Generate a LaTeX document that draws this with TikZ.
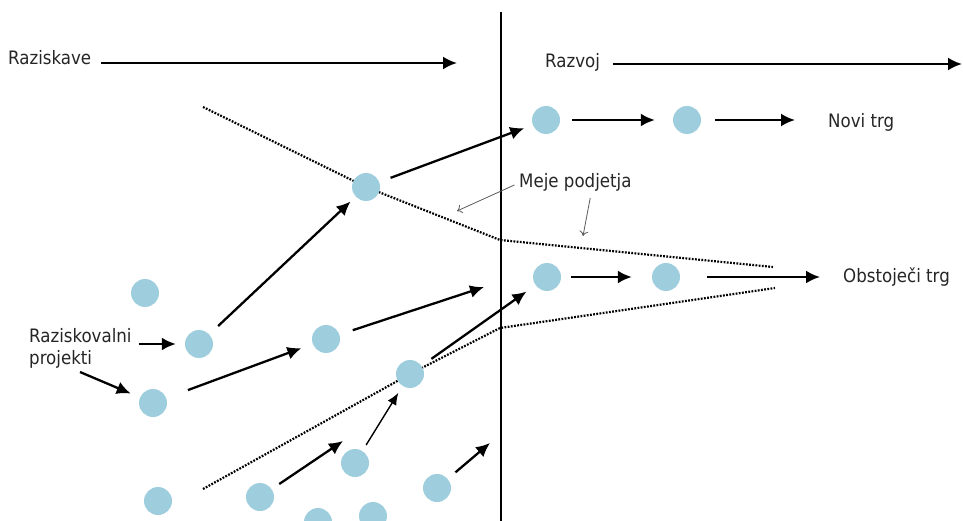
\documentclass[tikz,border=0pt]{standalone}
\usepackage{fontspec}
\setmainfont{DejaVu Sans Condensed}
\usetikzlibrary{arrows.meta}

\definecolor{projblue}{RGB}{158,206,222}

\begin{document}
\begin{tikzpicture}[x=1pt, y=-1pt,
    project/.style ={circle, fill=projblue, inner sep = 0pt, minimum size=28pt},
    label text/.style ={anchor=base west, inner sep=0pt, text=black!85, font=\fontsize{18.5}{22}\selectfont},
    flow/.style ={line width=2.3pt, -{Latex[length=14pt,width=13pt]}},
    thin flow/.style ={line width=1.4pt, -{Latex[length=12pt,width=10pt]}},
    hint/.style ={draw=black!65, line width=0.8pt, -{To[length=5pt,width=9pt]}},
    boundary/.style ={line width=2.2pt, dash pattern=on 1.8pt off 1.4pt}]
   \useasboundingbox (0,0) rectangle (963,521);

   % meje podjetja
   \draw[boundary] (203,107) -- (366,187) -- (500,240) -- (773,267);
   \draw[boundary] (203,489) -- (410,374) -- (500,328) -- (775,288);

   % raziskave | razvoj
   \coordinate (vtop) at (501,12);
   \coordinate (vbot) at (501,524);
   \draw[line width=1.8pt] (vtop) -- (vbot);

   \node[label text] (rsk) at (8,65) {Raziskave};
   \node[label text] (rzv) at (545,68) {Razvoj};
   \node[label text] (novi) at (828,128) {Novi trg};
   \node[label text] (obst) at (843,282) {Obstoječi trg};
   \node[label text] (meje) at (519,188) {Meje podjetja};
   \node[label text, anchor=north west, align=left] (lbl) at (29,328) {Raziskovalni\\projekti};

   \coordinate (rskEnd) at (457,63);
   \coordinate (rzvEnd) at (962,64);
   \coordinate (d1) at (484,287);
   \coordinate (h1) at (343,441);
   \coordinate (l1) at (490,443);
   \coordinate (p1) at (80,372);
   \coordinate (b1) at (457,211);
   \coordinate (b2) at (583,236);

   % projekti
   \node[project] (A) at (145,293) {};
   \node[project] (B) at (199,344) {};
   \node[project] (C) at (153,403) {};
   \node[project] (D) at (326,339) {};
   \node[project] (E) at (366,187) {};
   \node[project] (F) at (410,374) {};
   \node[project] (G) at (158,501) {};
   \node[project] (H) at (260,497) {};
   \node[project] (I) at (355,463) {};
   \node[project] (J) at (318,522) {};
   \node[project] (K) at (373,516) {};
   \node[project] (L) at (437,488) {};
   \node[project] (M) at (546,120) {};
   \node[project] (N) at (687,120) {};
   \node[project] (O) at (547,277) {};
   \node[project] (P) at (666,277) {};

   \draw[flow] (rsk.east |- rskEnd) ++(10,0) to (rskEnd);
   \draw[flow] (rzv.east |- rzvEnd) ++(13,0) to (rzvEnd);

   \draw[flow, shorten <=7pt, shorten >=9pt] (lbl.east |- B) to (B);
   \draw[flow, shorten >=10pt] (p1) to (C);
   \draw[flow, shorten <=12pt, shorten >=7pt] (B) to (E);
   \draw[flow, shorten <=12pt, shorten >=9pt] (E) to (M);
   \draw[flow, shorten <=12pt, shorten >=18pt] (M) to (N);
   \draw[flow, shorten <=14pt, shorten >=33pt] (N) to (novi.west |- N);
   \draw[flow, shorten <=23pt, shorten >=12pt] (C) to (D);
   \draw[flow, shorten <=14pt] (D) to (d1);
   \draw[flow, shorten <=12pt, shorten >=11pt] (F) to (O);
   \draw[flow, shorten <=10pt, shorten >=20pt] (O) to (P);
   \draw[flow, shorten <=27pt, shorten >=23pt] (P) to (obst.west |- P);
   \draw[flow, shorten <=9pt] (H) to (h1);
   \draw[thin flow, shorten <=7pt, shorten >=8pt] (I) to (F);
   \draw[flow, shorten <=10pt] (L) to (l1);

   \draw[hint, shorten <=5pt] (meje.west) to (b1);
   \draw[hint, shorten <=6pt] ([xshift=16pt]meje.south) to (b2);
\end{tikzpicture}
\end{document}
